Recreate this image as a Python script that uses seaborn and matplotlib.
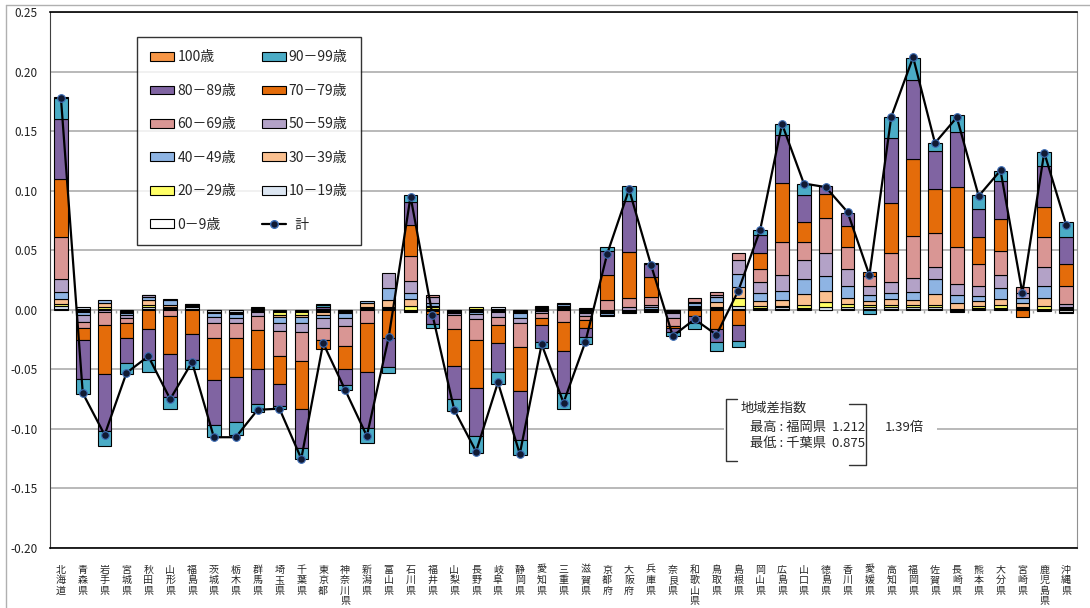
import numpy as np
import matplotlib
matplotlib.use("Agg")
import matplotlib.pyplot as plt
from matplotlib.patches import Patch, Rectangle
from matplotlib.lines import Line2D
from matplotlib.ticker import FuncFormatter
import seaborn as sns

prefectures = ["北海道", "青森県", "岩手県", "宮城県", "秋田県", "山形県", "福島県", "茨城県",
               "栃木県", "群馬県", "埼玉県", "千葉県", "東京都", "神奈川県", "新潟県", "富山県",
               "石川県", "福井県", "山梨県", "長野県", "岐阜県", "静岡県", "愛知県", "三重県",
               "滋賀県", "京都府", "大阪府", "兵庫県", "奈良県", "和歌山県", "鳥取県", "島根県",
               "岡山県", "広島県", "山口県", "徳島県", "香川県", "愛媛県", "高知県", "福岡県",
               "佐賀県", "長崎県", "熊本県", "大分県", "宮崎県", "鹿児島県", "沖縄県"]

# 年齢階級別の寄与度（都道府県順）
age_0_9 = [0.001, 0.001, 0.0005, -0.001, 0.001, 0.0005, 0.001, -0.0005, -0.0005, 0.001,
           -0.001, -0.001, 0.001, -0.0005, 0.001, 0.0005, -0.001, -0.001, -0.0005, 0.001,
           0.001, -0.0005, 0.001, 0.0005, 0.001, -0.0005, -0.0005, -0.0005, -0.0005, 0.0005,
           0.0005, 0.001, 0.0005, 0.001, 0.0005, -0.0005, 0.001, 0.001, 0.001, 0.001,
           0.001, -0.001, 0.0005, 0.0005, 0.0005, -0.0008, -0.002]
age_10_19 = [0.002, 0.001, 0.0005, -0.001, 0.001, 0.001, 0.001, -0.001, -0.001, 0.0005,
             -0.001, -0.001, -0.001, -0.0005, 0.0005, 0.001, -0.0005, 0.001, -0.0005, -0.001,
             0.001, -0.0005, 0.0005, 0.001, 0.0005, -0.0005, -0.0005, -0.0005, -0.0005, 0.001,
             0.001, 0.002, 0.001, 0.001, 0.001, 0.002, 0.001, 0.001, 0.001, 0.001,
             0.001, -0.001, 0.001, 0.001, 0.001, 0.0005, -0.0005]
age_20_29 = [0.002, -0.001, 0.001, -0.0005, 0.002, 0.0005, 0.001, -0.0005, -0.001, 0.0005,
             -0.002, -0.002, -0.001, -0.001, 0.0005, 0.0005, 0.003, 0.001, -0.0005, 0.001,
             -0.0005, -0.001, 0.001, 0.001, -0.001, -0.001, -0.0005, -0.0005, -0.0005, 0.001,
             0.001, 0.007, 0.002, 0.0015, 0.0025, 0.0045, 0.003, 0.0016, 0.002, 0.0022,
             0.002, 0.001, 0.0013, 0.0021, 0.001, 0.003, 0.0005]
age_30_39 = [0.004, -0.001, 0.004, -0.0005, 0.004, 0.002, 0.001, -0.001, -0.001, -0.001,
             -0.002, -0.002, -0.002, -0.001, 0.004, 0.006, 0.006, 0.0015, -0.0005, -0.001,
             -0.0005, -0.001, 0.001, 0.001, -0.001, -0.001, -0.0005, 0.001, -0.0005, 0.001,
             0.004, 0.009, 0.004, 0.005, 0.009, 0.009, 0.0053, 0.004, 0.005, 0.0036,
             0.009, 0.005, 0.0042, 0.0056, 0.003, 0.0068, 0.001]
age_40_49 = [0.006, -0.002, 0.002, -0.001, 0.003, 0.004, 0.0005, -0.003, -0.003, -0.001,
             -0.005, -0.005, -0.003, -0.004, 0.0015, 0.010, 0.0055, 0.002, -0.001, -0.0015,
             -0.001, -0.0035, -0.001, 0.001, -0.001, -0.001, -0.001, 0.001, -0.001, 0.002,
             0.004, 0.011, 0.007, 0.0075, 0.013, 0.013, 0.0093, 0.005, 0.0048, 0.007,
             0.0126, 0.006, 0.0047, 0.0095, 0.004, 0.0093, 0.001]
age_50_59 = [0.011, -0.006, -0.002, -0.003, 0.001, 0.001, 0.0005, -0.005, -0.005, -0.003,
             -0.007, -0.008, -0.008, -0.007, 0.0, 0.013, 0.010, 0.005, -0.001, -0.004,
             -0.004, -0.0045, -0.002, 0.001, -0.002, -0.001, 0.002, 0.002, -0.0035, 0.001,
             0.002, 0.012, 0.0087, 0.013, 0.016, 0.019, 0.0144, 0.007, 0.0092, 0.0117,
             0.0106, 0.010, 0.0083, 0.0106, 0.0045, 0.0159, 0.0022]
age_60_69 = [0.035, -0.005, -0.011, -0.004, 0.0005, -0.005, -0.0005, -0.013, -0.012, -0.012,
             -0.021, -0.024, -0.010, -0.016, -0.011, 0.0, 0.021, 0.002, -0.012, -0.0175,
             -0.007, -0.020, -0.004, -0.010, -0.004, 0.008, 0.008, 0.007, -0.007, 0.003,
             0.0028, 0.0055, 0.011, 0.028, 0.0145, 0.0295, 0.0185, 0.009, 0.0248, 0.0358,
             0.0285, 0.031, 0.0185, 0.0201, 0.0055, 0.026, 0.0153]
age_70_79 = [0.049, -0.010, -0.041, -0.013, -0.016, -0.032, -0.020, -0.035, -0.033, -0.033,
             -0.023, -0.040, -0.008, -0.020, -0.041, -0.024, 0.026, -0.0025, -0.031, -0.041,
             -0.015, -0.037, -0.006, -0.025, -0.006, 0.021, 0.0385, 0.0165, -0.002, -0.005,
             -0.016, -0.0125, 0.0135, 0.0495, 0.017, 0.0205, 0.0175, 0.0035, 0.042, 0.0647,
             0.0366, 0.050, 0.0225, 0.0266, -0.006, 0.0251, 0.0185]
age_80_89 = [0.050, -0.033, -0.048, -0.021, -0.026, -0.036, -0.022, -0.038, -0.038, -0.029,
             -0.019, -0.033, 0.001, -0.013, -0.047, -0.024, 0.019, -0.0085, -0.028, -0.040,
             -0.024, -0.041, -0.014, -0.035, -0.008, 0.020, 0.043, 0.011, -0.003, -0.006,
             -0.011, -0.0135, 0.0153, 0.040, 0.0225, 0.006, 0.0116, -0.0005, 0.054, 0.0657,
             0.0321, 0.046, 0.024, 0.0324, 0.0, 0.0341, 0.023]
age_90_99 = [0.018, -0.013, -0.012, -0.009, -0.010, -0.010, -0.007, -0.010, -0.011, -0.007,
             -0.002, -0.009, 0.002, -0.004, -0.013, -0.005, 0.0055, -0.0035, -0.010, -0.014,
             -0.010, -0.013, -0.005, -0.013, -0.0055, 0.0035, 0.0125, 0.001, -0.0035, -0.0055,
             -0.008, -0.005, 0.004, 0.0095, 0.0095, 0.0, 0.0, -0.003, 0.018, 0.019,
             0.0066, 0.0145, 0.011, 0.0084, 0.0, 0.012, 0.0125]
age_100 = [0.0005, 0.0, 0.0, 0.0, 0.0, 0.0, 0.0, 0.0, 0.0, 0.0,
           0.0, 0.0, 0.001, 0.0, 0.0, 0.0, 0.0, 0.0, 0.0, 0.0,
           0.0, 0.0, 0.0, 0.0, 0.0, 0.0, 0.0, 0.0, 0.0, 0.0,
           0.0, 0.0, 0.0, 0.0, 0.0, 0.0, 0.0, 0.0, 0.0, 0.0,
           0.0, 0.0, 0.0, 0.0, 0.0, 0.0, 0.0]
total = [0.178, -0.070, -0.105, -0.053, -0.039, -0.075, -0.044, -0.107, -0.107, -0.084,
         -0.083, -0.125, -0.028, -0.067, -0.106, -0.023, 0.095, -0.004, -0.084, -0.119,
         -0.061, -0.121, -0.029, -0.078, -0.027, 0.047, 0.101, 0.038, -0.022, -0.008,
         -0.021, 0.016, 0.067, 0.156, 0.106, 0.103, 0.082, 0.029, 0.162, 0.212,
         0.140, 0.1615, 0.0955, 0.117, 0.014, 0.132, 0.0715]

series = [age_0_9, age_10_19, age_20_29, age_30_39, age_40_49, age_50_59,
          age_60_69, age_70_79, age_80_89, age_90_99, age_100]
series_labels = ["0－9歳", "10－19歳", "20－29歳", "30－39歳", "40－49歳", "50－59歳",
                 "60－69歳", "70－79歳", "80－89歳", "90－99歳", "100歳"]
series_colors = ["#FFFFFF", "#DCE6F2", "#FFFF66", "#FAC090", "#8EB4E3", "#B3A2C7",
                 "#D99694", "#E46C0A", "#8064A2", "#4BACC6", "#F79646"]

sns.set_style("white")
plt.rcParams['font.family'] = ['Noto Sans CJK JP', 'DejaVu Sans']
plt.rcParams['axes.unicode_minus'] = False

W, H = 1090, 608
fig = plt.figure(figsize=(W / 100, H / 100), dpi=100)
ax = fig.add_axes([50 / W, 1 - 548 / H, (1077 - 50) / W, (548 - 12) / H])

n = len(prefectures)
x = np.arange(n)

# 正負で別々に積み上げ
pos_base = np.zeros(n)
neg_base = np.zeros(n)
for vals, color in zip(series, series_colors):
    v = np.array(vals)
    keep = v != 0
    base = np.where(v > 0, pos_base, neg_base)
    ax.bar(x[keep], v[keep], width=0.62, bottom=base[keep], color=color,
           edgecolor="black", linewidth=0.8, zorder=2)
    pos_base += np.where(v > 0, v, 0)
    neg_base += np.where(v < 0, v, 0)

sns.lineplot(x=x, y=total, ax=ax, color="black", lw=1.6, marker="o", markersize=5.5,
             markerfacecolor="#111a33", markeredgecolor="#3d6db5", markeredgewidth=0.8,
             zorder=5)

ax.set_xlim(-0.5, n - 0.5)
ax.set_ylim(-0.20, 0.25)
ax.set_yticks(np.arange(-0.20, 0.251, 0.05))
ax.yaxis.set_major_formatter(FuncFormatter(lambda v, p: f"{0.0 if abs(v) < 1e-9 else v:.2f}"))
ax.yaxis.grid(True, color="#a6a6a6", lw=1.1)
ax.set_axisbelow(True)
ax.vlines(np.arange(n + 1) - 0.5, -0.0025, 0, color="#a6a6a6", lw=1, zorder=1)

ax.set_xticks(x)
ax.set_xticklabels(["\n".join(p) for p in prefectures], fontsize=7.2, linespacing=1.07, va="top")
ax.tick_params(axis="x", length=0, pad=12)
ax.tick_params(axis="y", length=4, color="#808080", labelsize=8.5, labelcolor="#222222", pad=5)

for side in ["top", "bottom"]:
    ax.spines[side].set_color("black")
    ax.spines[side].set_linewidth(1.2)
ax.spines["left"].set_color("#404040")
ax.spines["right"].set_color("#909090")
ax.set_xlabel("")
ax.set_ylabel("")

# 凡例（2列、行ごとに読む順）
handles = {lab: Patch(facecolor=c, edgecolor="black", linewidth=0.8)
           for lab, c in zip(series_labels, series_colors)}
total_handle = Line2D([0], [0], color="black", lw=1.6, marker="o", markersize=5.5,
                      markerfacecolor="#111a33", markeredgecolor="#3d6db5")
col1 = ["100歳", "80－89歳", "60－69歳", "40－49歳", "20－29歳", "0－9歳"]
col2 = ["90－99歳", "70－79歳", "50－59歳", "30－39歳", "10－19歳"]
leg_handles = [handles[k] for k in col1] + [handles[k] for k in col2] + [total_handle]
leg_labels = col1 + col2 + ["  計"]
leg = ax.legend(leg_handles, leg_labels, ncol=2, loc="upper left",
                bbox_to_anchor=(0.0847, 0.953), frameon=True, fancybox=False,
                edgecolor="black", fontsize=10, labelspacing=1.4, handlelength=1.75,
                handleheight=0.6, handletextpad=0.2, columnspacing=1.85,
                borderpad=0.95, borderaxespad=0)
leg.get_frame().set_linewidth(1.0)
leg.set_zorder(10)

# 地域差指数の注記
fig.add_artist(Rectangle((724 / W, 1 - 466 / H), (937 - 724) / W, 72 / H,
                         transform=fig.transFigure, facecolor="white",
                         edgecolor="none", zorder=10))
fig.add_artist(Line2D(np.array([737, 726, 726, 737]) / W, 1 - np.array([399, 399, 461, 461]) / H,
                      transform=fig.transFigure, color="#333333", lw=1, zorder=11))
fig.add_artist(Line2D(np.array([849, 866, 866, 849]) / W, 1 - np.array([404, 404, 465, 465]) / H,
                      transform=fig.transFigure, color="#333333", lw=1, zorder=11))
fig.text(741 / W, 1 - 408 / H, "地域差指数", fontsize=9.5, va="center", zorder=12)
fig.text(750 / W, 1 - 427 / H, "最高 : 福岡県  1.212", fontsize=9.5, va="center", zorder=12)
fig.text(750 / W, 1 - 443 / H, "最低 : 千葉県  0.875", fontsize=9.5, va="center", zorder=12)
fig.text(885 / W, 1 - 427 / H, "1.39倍", fontsize=9.5, va="center", zorder=12)

# 外枠
fig.add_artist(Line2D([6 / W, 6 / W], [0, 1 - 5 / H], transform=fig.transFigure,
                      color="#b0b0b0", lw=1))
fig.add_artist(Line2D([6 / W, 1], [1 - 5 / H, 1 - 5 / H], transform=fig.transFigure,
                      color="#b0b0b0", lw=1))

fig.savefig("out.png", dpi=100)
